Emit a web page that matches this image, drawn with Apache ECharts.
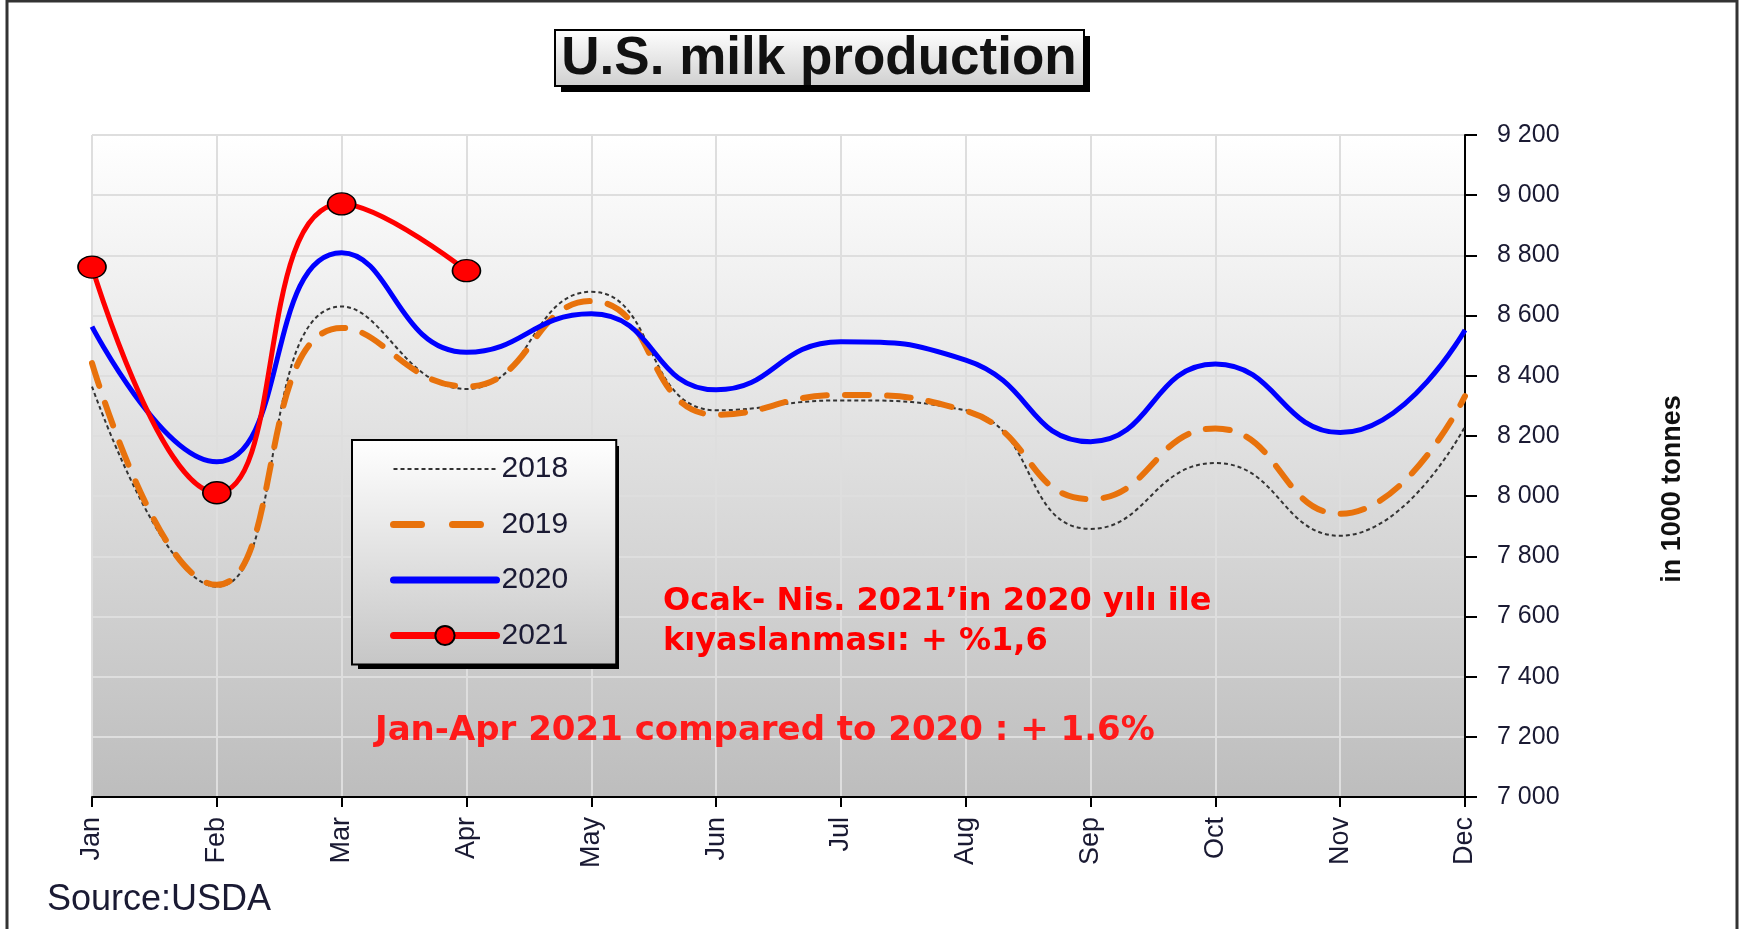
<!DOCTYPE html>
<html>
<head>
<meta charset="utf-8">
<title>U.S. milk production</title>
<script src="https://cdn.jsdelivr.net/npm/echarts@6/dist/echarts.min.js"></script>
<style>
  html, body { margin: 0; padding: 0; background: #fff; }
  #main { width: 1749px; height: 929px; }
</style>
</head>
<body>
<div id="main"></div>
<script>
// x categories
const months = ['Jan', 'Feb', 'Mar', 'Apr', 'May', 'Jun', 'Jul', 'Aug', 'Sep', 'Oct', 'Nov', 'Dec'];
// milk production in 1000 tonnes
const y2018 = [8364, 7699, 8630, 8356, 8679, 8285, 8318, 8285, 7891, 8110, 7868, 8231];
const y2019 = [8442, 7705, 8559, 8364, 8648, 8270, 8336, 8283, 7990, 8225, 7941, 8332];
const y2020 = [8563, 8114, 8809, 8478, 8606, 8353, 8513, 8452, 8181, 8439, 8211, 8552];
const y2021 = [8761, 8011, 8971, 8749];
// y axis range
const yMin = 7000;
const yMax = 9200;
const yStep = 200;

const txt = '#1a1a33';
const sans = '"Liberation Sans", Arial, sans-serif';

let chart = echarts.init(document.getElementById('main'));

// gradient helper
function vGrad(top, bottom) {
  return new echarts.graphic.LinearGradient(0, 0, 0, 1, [
    { offset: 0, color: top },
    { offset: 1, color: bottom }
  ]);
}

chart.setOption({
  animation: false,
  backgroundColor: '#fff',
  grid: {
    left: 92,
    right: 284,
    top: 135,
    bottom: 132,
    show: true,
    borderWidth: 0,
    backgroundColor: vGrad('#ffffff', '#bdbdbd')
  },
  legend: {
    orient: 'vertical',
    left: 352,
    top: 440,
    z: 6,
    padding: [14, 48, 14, 38],
    itemWidth: 103,
    itemHeight: 24,
    itemGap: 25.5,
    backgroundColor: vGrad('#ffffff', '#c6c6c6'),
    borderColor: '#000',
    borderWidth: 2,
    selectedMode: false,
    textStyle: { fontFamily: sans, fontSize: 30, color: txt },
    data: [
      { name: '2018', itemStyle: { opacity: 0 }, lineStyle: { width: 2, type: [4, 3] } },
      { name: '2019', itemStyle: { opacity: 0 }, lineStyle: { width: 7, type: [28, 31], cap: 'round' } },
      { name: '2020', itemStyle: { opacity: 0 }, lineStyle: { width: 7, cap: 'round' } },
      { name: '2021', lineStyle: { width: 7, cap: 'round' } }
    ]
  },
  xAxis: {
    type: 'category',
    boundaryGap: false,
    data: months,
    axisLine: { lineStyle: { color: '#000', width: 2 } },
    axisTick: { length: 10, lineStyle: { color: '#000', width: 2 } },
    axisLabel: {
      rotate: 90,
      margin: 20,
      fontFamily: sans,
      fontSize: 27,
      color: txt
    },
    splitLine: { show: true, lineStyle: { color: '#dedede', width: 2 } }
  },
  yAxis: {
    type: 'value',
    position: 'right',
    min: yMin,
    max: yMax,
    interval: yStep,
    axisLine: { show: true, lineStyle: { color: '#000', width: 2 } },
    axisTick: { show: true, length: 12, lineStyle: { color: '#000', width: 2 } },
    axisLabel: {
      margin: 32,
      fontFamily: sans,
      fontSize: 25,
      color: txt,
      formatter: v => String(v).replace(/\B(?=(\d{3})+(?!\d))/g, ' ')
    },
    splitLine: { lineStyle: { color: '#dedede', width: 2 } }
  },
  series: [
    {
      name: '2018',
      type: 'line',
      smooth: true,
      symbol: 'none',
      data: y2018,
      itemStyle: { color: '#333' },
      lineStyle: { color: '#333', width: 2, type: [4, 3] }
    },
    {
      name: '2019',
      type: 'line',
      smooth: true,
      symbol: 'none',
      data: y2019,
      itemStyle: { color: '#e8720c' },
      lineStyle: { color: '#e8720c', width: 6, type: [24, 18], cap: 'round' }
    },
    {
      name: '2020',
      type: 'line',
      smooth: true,
      symbol: 'none',
      data: y2020,
      itemStyle: { color: '#0000ff' },
      lineStyle: { color: '#0000ff', width: 5 }
    },
    {
      name: '2021',
      type: 'line',
      smooth: true,
      symbol: 'circle',
      symbolSize: [28, 22],
      showAllSymbol: true,
      data: y2021,
      itemStyle: { color: '#ff0000', borderColor: '#000', borderWidth: 1.5 },
      lineStyle: { color: '#ff0000', width: 5 },
      z: 5
    }
  ],
  graphic: [
    // outer frame
    {
      type: 'rect',
      z: -10,
      shape: { x: 7, y: 1, width: 1730, height: 1000 },
      style: { fill: 'none', stroke: '#333', lineWidth: 3 }
    },
    // title box with hard shadow
    {
      type: 'rect',
      z: 10,
      shape: { x: 561, y: 36, width: 529, height: 56 },
      style: { fill: '#000' }
    },
    {
      type: 'rect',
      z: 11,
      shape: { x: 555, y: 30, width: 529, height: 56 },
      style: { fill: vGrad('#ffffff', '#cfcfcf'), stroke: '#000', lineWidth: 2 }
    },
    {
      type: 'text',
      z: 12,
      x: 819,
      y: 59,
      style: {
        text: 'U.S. milk production',
        font: 'bold 53px "Liberation Sans", Arial, sans-serif',
        fill: '#111',
        align: 'center',
        verticalAlign: 'middle'
      }
    },
    // legend shadow
    {
      type: 'rect',
      z: 5,
      shape: { x: 358, y: 446, width: 261, height: 223 },
      style: { fill: '#000' }
    },
    {
      type: 'text',
      x: 663,
      y: 622,
      style: {
        text: 'Ocak- Nis. 2021’in 2020 yılı ile\nkıyaslanması: + %1,6',
        font: 'bold 32px "DejaVu Sans", sans-serif',
        fill: '#ff0000',
        lineHeight: 40,
        verticalAlign: 'middle'
      },
      z: 20
    },
    {
      type: 'text',
      x: 375,
      y: 731,
      style: {
        text: 'Jan-Apr 2021 compared to 2020 : + 1.6%',
        font: 'bold 34px "DejaVu Sans", sans-serif',
        fill: '#ff1a1a',
        verticalAlign: 'middle'
      },
      z: 20
    },
    {
      type: 'text',
      x: 47,
      y: 900,
      style: {
        text: 'Source:USDA',
        font: '36px "Liberation Sans", Arial, sans-serif',
        fill: txt,
        verticalAlign: 'middle'
      }
    },
    {
      type: 'text',
      x: 1673,
      y: 489,
      rotation: Math.PI / 2,
      style: {
        text: 'in 1000 tonnes',
        font: 'bold 27px "Liberation Sans Narrow", "Arial Narrow", sans-serif',
        fill: '#111',
        align: 'center',
        verticalAlign: 'middle'
      }
    }
  ]
});
</script>
</body>
</html>
